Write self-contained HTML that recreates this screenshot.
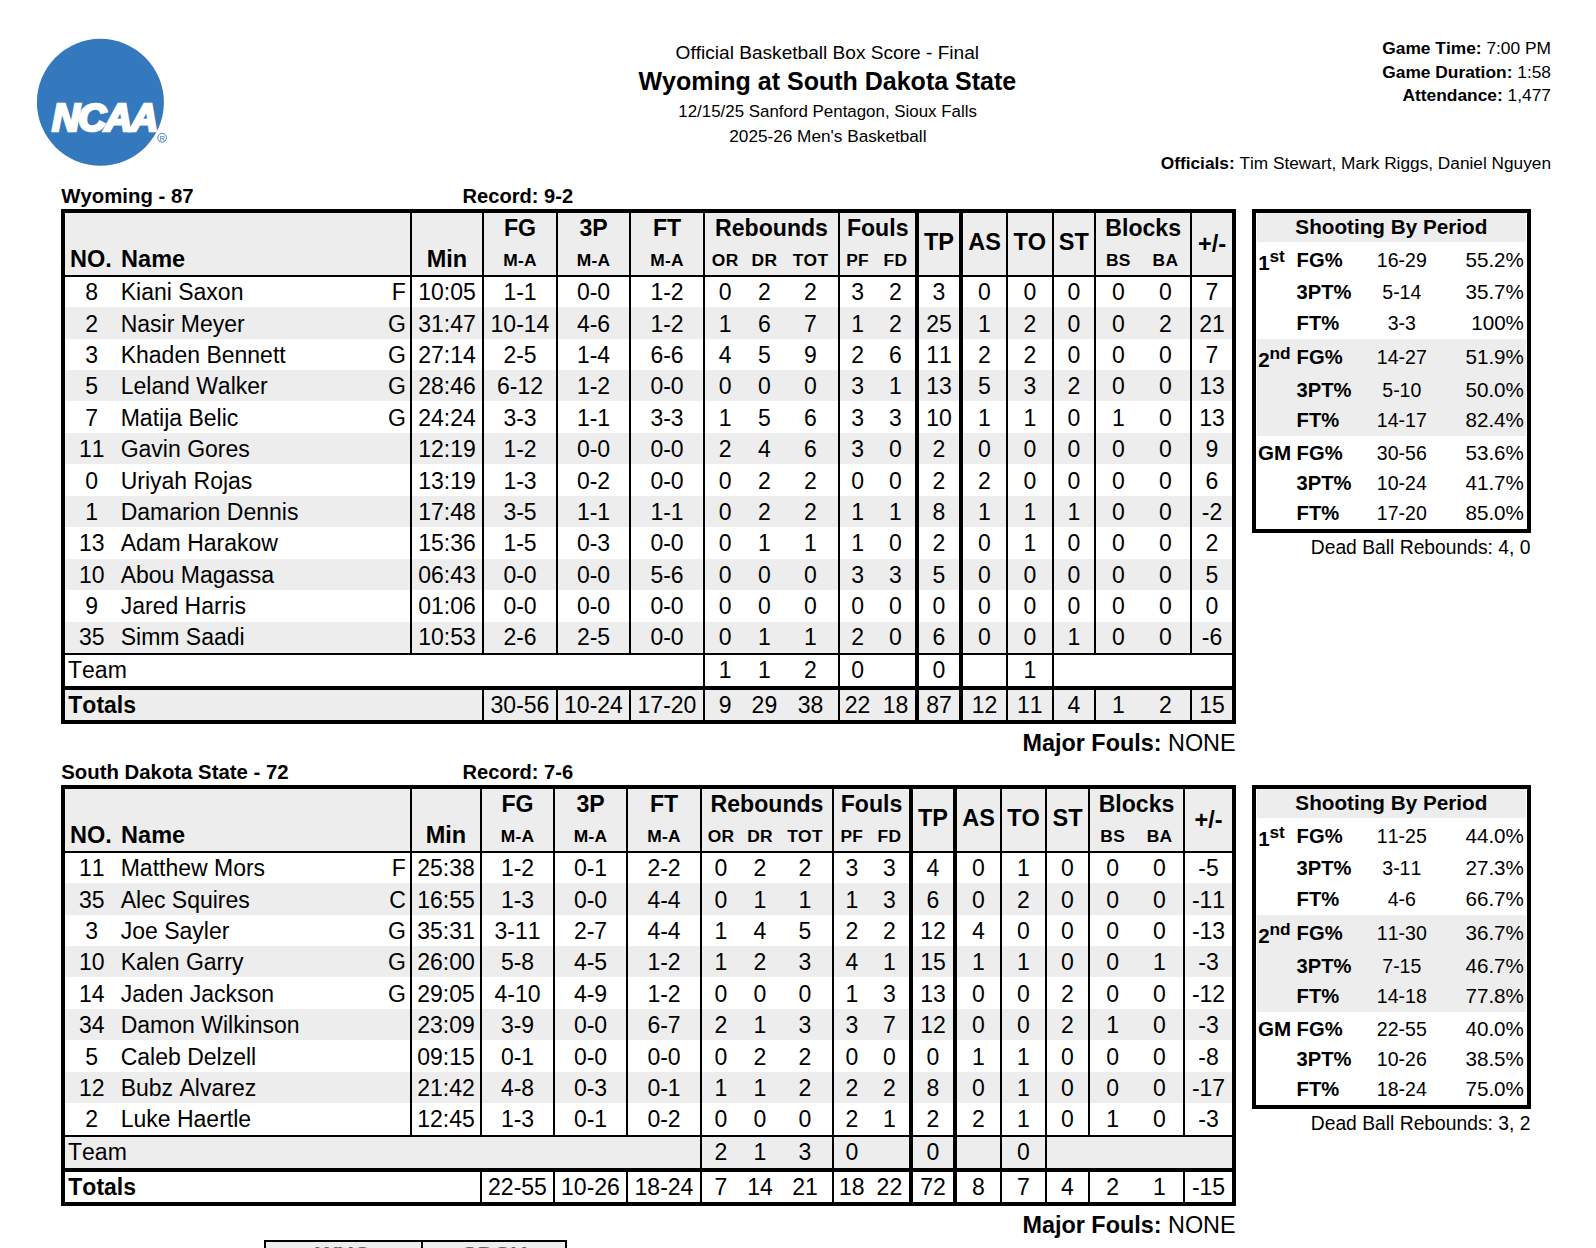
<!DOCTYPE html>
<html lang="en"><head><meta charset="utf-8"><title>Wyoming at South Dakota State - Box Score</title>
<style>
html,body{margin:0;padding:0;background:#fff}
body{font-kerning:none;width:1596px;height:1248px;position:relative;overflow:hidden;font-family:"Liberation Sans",Arial,Helvetica,sans-serif;color:#000}
.t{position:absolute;line-height:1;white-space:nowrap;margin:0;padding:0}
.ln,.bg,.logo{position:absolute}
b{font-weight:700}
.sup{font-size:.84em;position:relative;top:-.46em;margin-left:-0.4px}
.pn{font-weight:700}
</style></head><body>
<header>
<svg class="logo" width="200" height="180" viewBox="0 0 200 180" style="left:0;top:0">
<circle cx="100.4" cy="102.3" r="63.5" fill="#3478bd"/>
<text x="104.4" y="130.5" text-anchor="middle" font-family="Liberation Sans, Arial, Helvetica, sans-serif" font-weight="700" font-style="italic" font-size="38.5" fill="#fff" stroke="#fff" stroke-width="2.7" stroke-linejoin="miter" letter-spacing="-1.6">NCAA</text>
<circle cx="162.1" cy="137.8" r="4.4" fill="#fff" stroke="#3478bd" stroke-width="0.9"/>
<text x="162.15" y="140.6" text-anchor="middle" font-family="Liberation Sans, Arial, Helvetica, sans-serif" font-weight="400" font-size="7.6" fill="#3478bd">R</text>
</svg>
<div class="t" style="top:43px;font-size:19.1px;left:627.30px;width:400px;text-align:center;">Official Basketball Box Score - Final</div>
<div class="t" style="top:69px;font-size:25.0px;font-weight:700;left:627.30px;width:400px;text-align:center;">Wyoming at South Dakota State</div>
<div class="t" style="top:104px;font-size:16.9px;left:627.60px;width:400px;text-align:center;">12/15/25 Sanford Pentagon, Sioux Falls</div>
<div class="t" style="top:128px;font-size:17.2px;left:627.90px;width:400px;text-align:center;">2025-26 Men&#39;s Basketball</div>
<div class="t" style="top:40px;font-size:17.35px;left:951.00px;width:600px;text-align:right;"><b>Game Time:</b> 7:00 PM</div>
<div class="t" style="top:64px;font-size:17.35px;left:951.00px;width:600px;text-align:right;"><b>Game Duration:</b> 1:58</div>
<div class="t" style="top:87px;font-size:17.35px;left:951.00px;width:600px;text-align:right;"><b>Attendance:</b> 1,477</div>
<div class="t" style="top:155px;font-size:17.25px;left:951.00px;width:600px;text-align:right;"><b>Officials:</b> Tim Stewart, Mark Riggs, Daniel Nguyen</div>
</header>
<section class="team">
<div class="t" style="top:186px;font-size:20.35px;font-weight:700;left:61.30px;">Wyoming - 87</div>
<div class="t" style="top:186px;font-size:20.1px;font-weight:700;left:462.60px;">Record: 9-2</div>
<div class="bg" style="left:65.00px;top:213.00px;width:1167.00px;height:62.00px;background:#ededed"></div>
<div class="bg" style="left:65.00px;top:307.07px;width:1167.00px;height:31.47px;background:#ededed"></div>
<div class="bg" style="left:65.00px;top:370.01px;width:1167.00px;height:31.47px;background:#ededed"></div>
<div class="bg" style="left:65.00px;top:432.95px;width:1167.00px;height:31.47px;background:#ededed"></div>
<div class="bg" style="left:65.00px;top:495.89px;width:1167.00px;height:31.47px;background:#ededed"></div>
<div class="bg" style="left:65.00px;top:558.83px;width:1167.00px;height:31.47px;background:#ededed"></div>
<div class="bg" style="left:65.00px;top:621.77px;width:1167.00px;height:31.47px;background:#ededed"></div>
<div class="bg" style="left:65.00px;top:690.00px;width:1167.00px;height:30.00px;background:#ededed"></div>
<div class="ln" style="left:61.00px;top:209.00px;width:1175.00px;height:4.00px;background:#000"></div>
<div class="ln" style="left:61.00px;top:720.00px;width:1175.00px;height:4.00px;background:#000"></div>
<div class="ln" style="left:61.00px;top:209.00px;width:4.00px;height:515.00px;background:#000"></div>
<div class="ln" style="left:1232.00px;top:209.00px;width:4.00px;height:515.00px;background:#000"></div>
<div class="ln" style="left:65.00px;top:275.00px;width:1167.00px;height:2.00px;background:#000"></div>
<div class="ln" style="left:65.00px;top:653.00px;width:1167.00px;height:2.00px;background:#000"></div>
<div class="ln" style="left:65.00px;top:686.00px;width:1167.00px;height:4.00px;background:#000"></div>
<div class="ln" style="left:410.00px;top:213.00px;width:2.00px;height:440.00px;background:#000"></div>
<div class="ln" style="left:482.00px;top:213.00px;width:2.00px;height:440.00px;background:#000"></div>
<div class="ln" style="left:482.00px;top:686.00px;width:2.00px;height:34.00px;background:#000"></div>
<div class="ln" style="left:556.00px;top:213.00px;width:2.00px;height:440.00px;background:#000"></div>
<div class="ln" style="left:556.00px;top:686.00px;width:2.00px;height:34.00px;background:#000"></div>
<div class="ln" style="left:629.00px;top:213.00px;width:2.00px;height:440.00px;background:#000"></div>
<div class="ln" style="left:629.00px;top:686.00px;width:2.00px;height:34.00px;background:#000"></div>
<div class="ln" style="left:703.00px;top:213.00px;width:2.00px;height:440.00px;background:#000"></div>
<div class="ln" style="left:703.00px;top:653.00px;width:2.00px;height:33.00px;background:#000"></div>
<div class="ln" style="left:703.00px;top:686.00px;width:2.00px;height:34.00px;background:#000"></div>
<div class="ln" style="left:838.00px;top:213.00px;width:2.00px;height:440.00px;background:#000"></div>
<div class="ln" style="left:838.00px;top:653.00px;width:2.00px;height:33.00px;background:#000"></div>
<div class="ln" style="left:838.00px;top:686.00px;width:2.00px;height:34.00px;background:#000"></div>
<div class="ln" style="left:915.00px;top:213.00px;width:4.00px;height:440.00px;background:#000"></div>
<div class="ln" style="left:915.00px;top:653.00px;width:4.00px;height:33.00px;background:#000"></div>
<div class="ln" style="left:915.00px;top:686.00px;width:4.00px;height:34.00px;background:#000"></div>
<div class="ln" style="left:959.00px;top:213.00px;width:4.00px;height:440.00px;background:#000"></div>
<div class="ln" style="left:959.00px;top:653.00px;width:4.00px;height:33.00px;background:#000"></div>
<div class="ln" style="left:959.00px;top:686.00px;width:4.00px;height:34.00px;background:#000"></div>
<div class="ln" style="left:1006.00px;top:213.00px;width:2.00px;height:440.00px;background:#000"></div>
<div class="ln" style="left:1006.00px;top:653.00px;width:2.00px;height:33.00px;background:#000"></div>
<div class="ln" style="left:1006.00px;top:686.00px;width:2.00px;height:34.00px;background:#000"></div>
<div class="ln" style="left:1052.00px;top:213.00px;width:2.00px;height:440.00px;background:#000"></div>
<div class="ln" style="left:1052.00px;top:653.00px;width:2.00px;height:33.00px;background:#000"></div>
<div class="ln" style="left:1052.00px;top:686.00px;width:2.00px;height:34.00px;background:#000"></div>
<div class="ln" style="left:1094.00px;top:213.00px;width:2.00px;height:440.00px;background:#000"></div>
<div class="ln" style="left:1094.00px;top:686.00px;width:2.00px;height:34.00px;background:#000"></div>
<div class="ln" style="left:1190.00px;top:213.00px;width:2.00px;height:440.00px;background:#000"></div>
<div class="ln" style="left:1190.00px;top:686.00px;width:2.00px;height:34.00px;background:#000"></div>
<div class="t" style="top:248px;font-size:23.5px;font-weight:700;left:70.10px;">NO.</div>
<div class="t" style="top:248px;font-size:23.5px;font-weight:700;left:121.10px;">Name</div>
<div class="t" style="top:248px;font-size:23.5px;font-weight:700;left:247.00px;width:400px;text-align:center;">Min</div>
<div class="t" style="top:217px;font-size:23.1px;font-weight:700;left:320.00px;width:400px;text-align:center;">FG</div>
<div class="t" style="top:252px;font-size:17.4px;font-weight:700;left:320.00px;width:400px;text-align:center;letter-spacing:0.3px;">M-A</div>
<div class="t" style="top:217px;font-size:23.1px;font-weight:700;left:393.50px;width:400px;text-align:center;">3P</div>
<div class="t" style="top:252px;font-size:17.4px;font-weight:700;left:393.50px;width:400px;text-align:center;letter-spacing:0.3px;">M-A</div>
<div class="t" style="top:217px;font-size:23.1px;font-weight:700;left:467.00px;width:400px;text-align:center;">FT</div>
<div class="t" style="top:252px;font-size:17.4px;font-weight:700;left:467.00px;width:400px;text-align:center;letter-spacing:0.3px;">M-A</div>
<div class="t" style="top:217px;font-size:23.1px;font-weight:700;left:571.50px;width:400px;text-align:center;">Rebounds</div>
<div class="t" style="top:217px;font-size:23.1px;font-weight:700;left:677.70px;width:400px;text-align:center;">Fouls</div>
<div class="t" style="top:217px;font-size:23.1px;font-weight:700;left:943.20px;width:400px;text-align:center;">Blocks</div>
<div class="t" style="top:252px;font-size:17.4px;font-weight:700;left:525.20px;width:400px;text-align:center;letter-spacing:0.3px;">OR</div>
<div class="t" style="top:252px;font-size:17.4px;font-weight:700;left:564.40px;width:400px;text-align:center;letter-spacing:0.3px;">DR</div>
<div class="t" style="top:252px;font-size:17.4px;font-weight:700;left:610.50px;width:400px;text-align:center;letter-spacing:0.3px;">TOT</div>
<div class="t" style="top:252px;font-size:17.4px;font-weight:700;left:657.60px;width:400px;text-align:center;letter-spacing:0.3px;">PF</div>
<div class="t" style="top:252px;font-size:17.4px;font-weight:700;left:695.50px;width:400px;text-align:center;letter-spacing:0.3px;">FD</div>
<div class="t" style="top:252px;font-size:17.4px;font-weight:700;left:918.30px;width:400px;text-align:center;letter-spacing:0.3px;">BS</div>
<div class="t" style="top:252px;font-size:17.4px;font-weight:700;left:965.40px;width:400px;text-align:center;letter-spacing:0.3px;">BA</div>
<div class="t" style="top:231px;font-size:23.5px;font-weight:700;left:739.00px;width:400px;text-align:center;">TP</div>
<div class="t" style="top:231px;font-size:23.5px;font-weight:700;left:784.50px;width:400px;text-align:center;">AS</div>
<div class="t" style="top:231px;font-size:23.5px;font-weight:700;left:829.80px;width:400px;text-align:center;">TO</div>
<div class="t" style="top:231px;font-size:23.5px;font-weight:700;left:873.80px;width:400px;text-align:center;">ST</div>
<div class="t" style="top:233px;font-size:23.5px;font-weight:700;left:1012.00px;width:400px;text-align:center;">+/-</div>
<div class="t" style="top:281px;font-size:23.0px;left:-108.30px;width:400px;text-align:center;">8</div>
<div class="t" style="top:281px;font-size:23.0px;left:120.70px;">Kiani Saxon</div>
<div class="t" style="top:281px;font-size:23.0px;left:-194.10px;width:600px;text-align:right;">F</div>
<div class="t" style="top:281px;font-size:23.0px;left:247.00px;width:400px;text-align:center;">10:05</div>
<div class="t" style="top:281px;font-size:23.0px;left:320.00px;width:400px;text-align:center;">1-1</div>
<div class="t" style="top:281px;font-size:23.0px;left:393.50px;width:400px;text-align:center;">0-0</div>
<div class="t" style="top:281px;font-size:23.0px;left:467.00px;width:400px;text-align:center;">1-2</div>
<div class="t" style="top:281px;font-size:23.0px;left:525.20px;width:400px;text-align:center;">0</div>
<div class="t" style="top:281px;font-size:23.0px;left:564.40px;width:400px;text-align:center;">2</div>
<div class="t" style="top:281px;font-size:23.0px;left:610.50px;width:400px;text-align:center;">2</div>
<div class="t" style="top:281px;font-size:23.0px;left:657.60px;width:400px;text-align:center;">3</div>
<div class="t" style="top:281px;font-size:23.0px;left:695.50px;width:400px;text-align:center;">2</div>
<div class="t" style="top:281px;font-size:23.0px;left:739.00px;width:400px;text-align:center;">3</div>
<div class="t" style="top:281px;font-size:23.0px;left:784.50px;width:400px;text-align:center;">0</div>
<div class="t" style="top:281px;font-size:23.0px;left:829.80px;width:400px;text-align:center;">0</div>
<div class="t" style="top:281px;font-size:23.0px;left:873.80px;width:400px;text-align:center;">0</div>
<div class="t" style="top:281px;font-size:23.0px;left:918.30px;width:400px;text-align:center;">0</div>
<div class="t" style="top:281px;font-size:23.0px;left:965.40px;width:400px;text-align:center;">0</div>
<div class="t" style="top:281px;font-size:23.0px;left:1012.00px;width:400px;text-align:center;">7</div>
<div class="t" style="top:313px;font-size:23.0px;left:-108.30px;width:400px;text-align:center;">2</div>
<div class="t" style="top:313px;font-size:23.0px;left:120.70px;">Nasir Meyer</div>
<div class="t" style="top:313px;font-size:23.0px;left:-194.10px;width:600px;text-align:right;">G</div>
<div class="t" style="top:313px;font-size:23.0px;left:247.00px;width:400px;text-align:center;">31:47</div>
<div class="t" style="top:313px;font-size:23.0px;left:320.00px;width:400px;text-align:center;">10-14</div>
<div class="t" style="top:313px;font-size:23.0px;left:393.50px;width:400px;text-align:center;">4-6</div>
<div class="t" style="top:313px;font-size:23.0px;left:467.00px;width:400px;text-align:center;">1-2</div>
<div class="t" style="top:313px;font-size:23.0px;left:525.20px;width:400px;text-align:center;">1</div>
<div class="t" style="top:313px;font-size:23.0px;left:564.40px;width:400px;text-align:center;">6</div>
<div class="t" style="top:313px;font-size:23.0px;left:610.50px;width:400px;text-align:center;">7</div>
<div class="t" style="top:313px;font-size:23.0px;left:657.60px;width:400px;text-align:center;">1</div>
<div class="t" style="top:313px;font-size:23.0px;left:695.50px;width:400px;text-align:center;">2</div>
<div class="t" style="top:313px;font-size:23.0px;left:739.00px;width:400px;text-align:center;">25</div>
<div class="t" style="top:313px;font-size:23.0px;left:784.50px;width:400px;text-align:center;">1</div>
<div class="t" style="top:313px;font-size:23.0px;left:829.80px;width:400px;text-align:center;">2</div>
<div class="t" style="top:313px;font-size:23.0px;left:873.80px;width:400px;text-align:center;">0</div>
<div class="t" style="top:313px;font-size:23.0px;left:918.30px;width:400px;text-align:center;">0</div>
<div class="t" style="top:313px;font-size:23.0px;left:965.40px;width:400px;text-align:center;">2</div>
<div class="t" style="top:313px;font-size:23.0px;left:1012.00px;width:400px;text-align:center;">21</div>
<div class="t" style="top:344px;font-size:23.0px;left:-108.30px;width:400px;text-align:center;">3</div>
<div class="t" style="top:344px;font-size:23.0px;left:120.70px;">Khaden Bennett</div>
<div class="t" style="top:344px;font-size:23.0px;left:-194.10px;width:600px;text-align:right;">G</div>
<div class="t" style="top:344px;font-size:23.0px;left:247.00px;width:400px;text-align:center;">27:14</div>
<div class="t" style="top:344px;font-size:23.0px;left:320.00px;width:400px;text-align:center;">2-5</div>
<div class="t" style="top:344px;font-size:23.0px;left:393.50px;width:400px;text-align:center;">1-4</div>
<div class="t" style="top:344px;font-size:23.0px;left:467.00px;width:400px;text-align:center;">6-6</div>
<div class="t" style="top:344px;font-size:23.0px;left:525.20px;width:400px;text-align:center;">4</div>
<div class="t" style="top:344px;font-size:23.0px;left:564.40px;width:400px;text-align:center;">5</div>
<div class="t" style="top:344px;font-size:23.0px;left:610.50px;width:400px;text-align:center;">9</div>
<div class="t" style="top:344px;font-size:23.0px;left:657.60px;width:400px;text-align:center;">2</div>
<div class="t" style="top:344px;font-size:23.0px;left:695.50px;width:400px;text-align:center;">6</div>
<div class="t" style="top:344px;font-size:23.0px;left:739.00px;width:400px;text-align:center;">11</div>
<div class="t" style="top:344px;font-size:23.0px;left:784.50px;width:400px;text-align:center;">2</div>
<div class="t" style="top:344px;font-size:23.0px;left:829.80px;width:400px;text-align:center;">2</div>
<div class="t" style="top:344px;font-size:23.0px;left:873.80px;width:400px;text-align:center;">0</div>
<div class="t" style="top:344px;font-size:23.0px;left:918.30px;width:400px;text-align:center;">0</div>
<div class="t" style="top:344px;font-size:23.0px;left:965.40px;width:400px;text-align:center;">0</div>
<div class="t" style="top:344px;font-size:23.0px;left:1012.00px;width:400px;text-align:center;">7</div>
<div class="t" style="top:375px;font-size:23.0px;left:-108.30px;width:400px;text-align:center;">5</div>
<div class="t" style="top:375px;font-size:23.0px;left:120.70px;">Leland Walker</div>
<div class="t" style="top:375px;font-size:23.0px;left:-194.10px;width:600px;text-align:right;">G</div>
<div class="t" style="top:375px;font-size:23.0px;left:247.00px;width:400px;text-align:center;">28:46</div>
<div class="t" style="top:375px;font-size:23.0px;left:320.00px;width:400px;text-align:center;">6-12</div>
<div class="t" style="top:375px;font-size:23.0px;left:393.50px;width:400px;text-align:center;">1-2</div>
<div class="t" style="top:375px;font-size:23.0px;left:467.00px;width:400px;text-align:center;">0-0</div>
<div class="t" style="top:375px;font-size:23.0px;left:525.20px;width:400px;text-align:center;">0</div>
<div class="t" style="top:375px;font-size:23.0px;left:564.40px;width:400px;text-align:center;">0</div>
<div class="t" style="top:375px;font-size:23.0px;left:610.50px;width:400px;text-align:center;">0</div>
<div class="t" style="top:375px;font-size:23.0px;left:657.60px;width:400px;text-align:center;">3</div>
<div class="t" style="top:375px;font-size:23.0px;left:695.50px;width:400px;text-align:center;">1</div>
<div class="t" style="top:375px;font-size:23.0px;left:739.00px;width:400px;text-align:center;">13</div>
<div class="t" style="top:375px;font-size:23.0px;left:784.50px;width:400px;text-align:center;">5</div>
<div class="t" style="top:375px;font-size:23.0px;left:829.80px;width:400px;text-align:center;">3</div>
<div class="t" style="top:375px;font-size:23.0px;left:873.80px;width:400px;text-align:center;">2</div>
<div class="t" style="top:375px;font-size:23.0px;left:918.30px;width:400px;text-align:center;">0</div>
<div class="t" style="top:375px;font-size:23.0px;left:965.40px;width:400px;text-align:center;">0</div>
<div class="t" style="top:375px;font-size:23.0px;left:1012.00px;width:400px;text-align:center;">13</div>
<div class="t" style="top:407px;font-size:23.0px;left:-108.30px;width:400px;text-align:center;">7</div>
<div class="t" style="top:407px;font-size:23.0px;left:120.70px;">Matija Belic</div>
<div class="t" style="top:407px;font-size:23.0px;left:-194.10px;width:600px;text-align:right;">G</div>
<div class="t" style="top:407px;font-size:23.0px;left:247.00px;width:400px;text-align:center;">24:24</div>
<div class="t" style="top:407px;font-size:23.0px;left:320.00px;width:400px;text-align:center;">3-3</div>
<div class="t" style="top:407px;font-size:23.0px;left:393.50px;width:400px;text-align:center;">1-1</div>
<div class="t" style="top:407px;font-size:23.0px;left:467.00px;width:400px;text-align:center;">3-3</div>
<div class="t" style="top:407px;font-size:23.0px;left:525.20px;width:400px;text-align:center;">1</div>
<div class="t" style="top:407px;font-size:23.0px;left:564.40px;width:400px;text-align:center;">5</div>
<div class="t" style="top:407px;font-size:23.0px;left:610.50px;width:400px;text-align:center;">6</div>
<div class="t" style="top:407px;font-size:23.0px;left:657.60px;width:400px;text-align:center;">3</div>
<div class="t" style="top:407px;font-size:23.0px;left:695.50px;width:400px;text-align:center;">3</div>
<div class="t" style="top:407px;font-size:23.0px;left:739.00px;width:400px;text-align:center;">10</div>
<div class="t" style="top:407px;font-size:23.0px;left:784.50px;width:400px;text-align:center;">1</div>
<div class="t" style="top:407px;font-size:23.0px;left:829.80px;width:400px;text-align:center;">1</div>
<div class="t" style="top:407px;font-size:23.0px;left:873.80px;width:400px;text-align:center;">0</div>
<div class="t" style="top:407px;font-size:23.0px;left:918.30px;width:400px;text-align:center;">1</div>
<div class="t" style="top:407px;font-size:23.0px;left:965.40px;width:400px;text-align:center;">0</div>
<div class="t" style="top:407px;font-size:23.0px;left:1012.00px;width:400px;text-align:center;">13</div>
<div class="t" style="top:438px;font-size:23.0px;left:-108.30px;width:400px;text-align:center;">11</div>
<div class="t" style="top:438px;font-size:23.0px;left:120.70px;">Gavin Gores</div>
<div class="t" style="top:438px;font-size:23.0px;left:247.00px;width:400px;text-align:center;">12:19</div>
<div class="t" style="top:438px;font-size:23.0px;left:320.00px;width:400px;text-align:center;">1-2</div>
<div class="t" style="top:438px;font-size:23.0px;left:393.50px;width:400px;text-align:center;">0-0</div>
<div class="t" style="top:438px;font-size:23.0px;left:467.00px;width:400px;text-align:center;">0-0</div>
<div class="t" style="top:438px;font-size:23.0px;left:525.20px;width:400px;text-align:center;">2</div>
<div class="t" style="top:438px;font-size:23.0px;left:564.40px;width:400px;text-align:center;">4</div>
<div class="t" style="top:438px;font-size:23.0px;left:610.50px;width:400px;text-align:center;">6</div>
<div class="t" style="top:438px;font-size:23.0px;left:657.60px;width:400px;text-align:center;">3</div>
<div class="t" style="top:438px;font-size:23.0px;left:695.50px;width:400px;text-align:center;">0</div>
<div class="t" style="top:438px;font-size:23.0px;left:739.00px;width:400px;text-align:center;">2</div>
<div class="t" style="top:438px;font-size:23.0px;left:784.50px;width:400px;text-align:center;">0</div>
<div class="t" style="top:438px;font-size:23.0px;left:829.80px;width:400px;text-align:center;">0</div>
<div class="t" style="top:438px;font-size:23.0px;left:873.80px;width:400px;text-align:center;">0</div>
<div class="t" style="top:438px;font-size:23.0px;left:918.30px;width:400px;text-align:center;">0</div>
<div class="t" style="top:438px;font-size:23.0px;left:965.40px;width:400px;text-align:center;">0</div>
<div class="t" style="top:438px;font-size:23.0px;left:1012.00px;width:400px;text-align:center;">9</div>
<div class="t" style="top:470px;font-size:23.0px;left:-108.30px;width:400px;text-align:center;">0</div>
<div class="t" style="top:470px;font-size:23.0px;left:120.70px;">Uriyah Rojas</div>
<div class="t" style="top:470px;font-size:23.0px;left:247.00px;width:400px;text-align:center;">13:19</div>
<div class="t" style="top:470px;font-size:23.0px;left:320.00px;width:400px;text-align:center;">1-3</div>
<div class="t" style="top:470px;font-size:23.0px;left:393.50px;width:400px;text-align:center;">0-2</div>
<div class="t" style="top:470px;font-size:23.0px;left:467.00px;width:400px;text-align:center;">0-0</div>
<div class="t" style="top:470px;font-size:23.0px;left:525.20px;width:400px;text-align:center;">0</div>
<div class="t" style="top:470px;font-size:23.0px;left:564.40px;width:400px;text-align:center;">2</div>
<div class="t" style="top:470px;font-size:23.0px;left:610.50px;width:400px;text-align:center;">2</div>
<div class="t" style="top:470px;font-size:23.0px;left:657.60px;width:400px;text-align:center;">0</div>
<div class="t" style="top:470px;font-size:23.0px;left:695.50px;width:400px;text-align:center;">0</div>
<div class="t" style="top:470px;font-size:23.0px;left:739.00px;width:400px;text-align:center;">2</div>
<div class="t" style="top:470px;font-size:23.0px;left:784.50px;width:400px;text-align:center;">2</div>
<div class="t" style="top:470px;font-size:23.0px;left:829.80px;width:400px;text-align:center;">0</div>
<div class="t" style="top:470px;font-size:23.0px;left:873.80px;width:400px;text-align:center;">0</div>
<div class="t" style="top:470px;font-size:23.0px;left:918.30px;width:400px;text-align:center;">0</div>
<div class="t" style="top:470px;font-size:23.0px;left:965.40px;width:400px;text-align:center;">0</div>
<div class="t" style="top:470px;font-size:23.0px;left:1012.00px;width:400px;text-align:center;">6</div>
<div class="t" style="top:501px;font-size:23.0px;left:-108.30px;width:400px;text-align:center;">1</div>
<div class="t" style="top:501px;font-size:23.0px;left:120.70px;">Damarion Dennis</div>
<div class="t" style="top:501px;font-size:23.0px;left:247.00px;width:400px;text-align:center;">17:48</div>
<div class="t" style="top:501px;font-size:23.0px;left:320.00px;width:400px;text-align:center;">3-5</div>
<div class="t" style="top:501px;font-size:23.0px;left:393.50px;width:400px;text-align:center;">1-1</div>
<div class="t" style="top:501px;font-size:23.0px;left:467.00px;width:400px;text-align:center;">1-1</div>
<div class="t" style="top:501px;font-size:23.0px;left:525.20px;width:400px;text-align:center;">0</div>
<div class="t" style="top:501px;font-size:23.0px;left:564.40px;width:400px;text-align:center;">2</div>
<div class="t" style="top:501px;font-size:23.0px;left:610.50px;width:400px;text-align:center;">2</div>
<div class="t" style="top:501px;font-size:23.0px;left:657.60px;width:400px;text-align:center;">1</div>
<div class="t" style="top:501px;font-size:23.0px;left:695.50px;width:400px;text-align:center;">1</div>
<div class="t" style="top:501px;font-size:23.0px;left:739.00px;width:400px;text-align:center;">8</div>
<div class="t" style="top:501px;font-size:23.0px;left:784.50px;width:400px;text-align:center;">1</div>
<div class="t" style="top:501px;font-size:23.0px;left:829.80px;width:400px;text-align:center;">1</div>
<div class="t" style="top:501px;font-size:23.0px;left:873.80px;width:400px;text-align:center;">1</div>
<div class="t" style="top:501px;font-size:23.0px;left:918.30px;width:400px;text-align:center;">0</div>
<div class="t" style="top:501px;font-size:23.0px;left:965.40px;width:400px;text-align:center;">0</div>
<div class="t" style="top:501px;font-size:23.0px;left:1012.00px;width:400px;text-align:center;">-2</div>
<div class="t" style="top:532px;font-size:23.0px;left:-108.30px;width:400px;text-align:center;">13</div>
<div class="t" style="top:532px;font-size:23.0px;left:120.70px;">Adam Harakow</div>
<div class="t" style="top:532px;font-size:23.0px;left:247.00px;width:400px;text-align:center;">15:36</div>
<div class="t" style="top:532px;font-size:23.0px;left:320.00px;width:400px;text-align:center;">1-5</div>
<div class="t" style="top:532px;font-size:23.0px;left:393.50px;width:400px;text-align:center;">0-3</div>
<div class="t" style="top:532px;font-size:23.0px;left:467.00px;width:400px;text-align:center;">0-0</div>
<div class="t" style="top:532px;font-size:23.0px;left:525.20px;width:400px;text-align:center;">0</div>
<div class="t" style="top:532px;font-size:23.0px;left:564.40px;width:400px;text-align:center;">1</div>
<div class="t" style="top:532px;font-size:23.0px;left:610.50px;width:400px;text-align:center;">1</div>
<div class="t" style="top:532px;font-size:23.0px;left:657.60px;width:400px;text-align:center;">1</div>
<div class="t" style="top:532px;font-size:23.0px;left:695.50px;width:400px;text-align:center;">0</div>
<div class="t" style="top:532px;font-size:23.0px;left:739.00px;width:400px;text-align:center;">2</div>
<div class="t" style="top:532px;font-size:23.0px;left:784.50px;width:400px;text-align:center;">0</div>
<div class="t" style="top:532px;font-size:23.0px;left:829.80px;width:400px;text-align:center;">1</div>
<div class="t" style="top:532px;font-size:23.0px;left:873.80px;width:400px;text-align:center;">0</div>
<div class="t" style="top:532px;font-size:23.0px;left:918.30px;width:400px;text-align:center;">0</div>
<div class="t" style="top:532px;font-size:23.0px;left:965.40px;width:400px;text-align:center;">0</div>
<div class="t" style="top:532px;font-size:23.0px;left:1012.00px;width:400px;text-align:center;">2</div>
<div class="t" style="top:564px;font-size:23.0px;left:-108.30px;width:400px;text-align:center;">10</div>
<div class="t" style="top:564px;font-size:23.0px;left:120.70px;">Abou Magassa</div>
<div class="t" style="top:564px;font-size:23.0px;left:247.00px;width:400px;text-align:center;">06:43</div>
<div class="t" style="top:564px;font-size:23.0px;left:320.00px;width:400px;text-align:center;">0-0</div>
<div class="t" style="top:564px;font-size:23.0px;left:393.50px;width:400px;text-align:center;">0-0</div>
<div class="t" style="top:564px;font-size:23.0px;left:467.00px;width:400px;text-align:center;">5-6</div>
<div class="t" style="top:564px;font-size:23.0px;left:525.20px;width:400px;text-align:center;">0</div>
<div class="t" style="top:564px;font-size:23.0px;left:564.40px;width:400px;text-align:center;">0</div>
<div class="t" style="top:564px;font-size:23.0px;left:610.50px;width:400px;text-align:center;">0</div>
<div class="t" style="top:564px;font-size:23.0px;left:657.60px;width:400px;text-align:center;">3</div>
<div class="t" style="top:564px;font-size:23.0px;left:695.50px;width:400px;text-align:center;">3</div>
<div class="t" style="top:564px;font-size:23.0px;left:739.00px;width:400px;text-align:center;">5</div>
<div class="t" style="top:564px;font-size:23.0px;left:784.50px;width:400px;text-align:center;">0</div>
<div class="t" style="top:564px;font-size:23.0px;left:829.80px;width:400px;text-align:center;">0</div>
<div class="t" style="top:564px;font-size:23.0px;left:873.80px;width:400px;text-align:center;">0</div>
<div class="t" style="top:564px;font-size:23.0px;left:918.30px;width:400px;text-align:center;">0</div>
<div class="t" style="top:564px;font-size:23.0px;left:965.40px;width:400px;text-align:center;">0</div>
<div class="t" style="top:564px;font-size:23.0px;left:1012.00px;width:400px;text-align:center;">5</div>
<div class="t" style="top:595px;font-size:23.0px;left:-108.30px;width:400px;text-align:center;">9</div>
<div class="t" style="top:595px;font-size:23.0px;left:120.70px;">Jared Harris</div>
<div class="t" style="top:595px;font-size:23.0px;left:247.00px;width:400px;text-align:center;">01:06</div>
<div class="t" style="top:595px;font-size:23.0px;left:320.00px;width:400px;text-align:center;">0-0</div>
<div class="t" style="top:595px;font-size:23.0px;left:393.50px;width:400px;text-align:center;">0-0</div>
<div class="t" style="top:595px;font-size:23.0px;left:467.00px;width:400px;text-align:center;">0-0</div>
<div class="t" style="top:595px;font-size:23.0px;left:525.20px;width:400px;text-align:center;">0</div>
<div class="t" style="top:595px;font-size:23.0px;left:564.40px;width:400px;text-align:center;">0</div>
<div class="t" style="top:595px;font-size:23.0px;left:610.50px;width:400px;text-align:center;">0</div>
<div class="t" style="top:595px;font-size:23.0px;left:657.60px;width:400px;text-align:center;">0</div>
<div class="t" style="top:595px;font-size:23.0px;left:695.50px;width:400px;text-align:center;">0</div>
<div class="t" style="top:595px;font-size:23.0px;left:739.00px;width:400px;text-align:center;">0</div>
<div class="t" style="top:595px;font-size:23.0px;left:784.50px;width:400px;text-align:center;">0</div>
<div class="t" style="top:595px;font-size:23.0px;left:829.80px;width:400px;text-align:center;">0</div>
<div class="t" style="top:595px;font-size:23.0px;left:873.80px;width:400px;text-align:center;">0</div>
<div class="t" style="top:595px;font-size:23.0px;left:918.30px;width:400px;text-align:center;">0</div>
<div class="t" style="top:595px;font-size:23.0px;left:965.40px;width:400px;text-align:center;">0</div>
<div class="t" style="top:595px;font-size:23.0px;left:1012.00px;width:400px;text-align:center;">0</div>
<div class="t" style="top:626px;font-size:23.0px;left:-108.30px;width:400px;text-align:center;">35</div>
<div class="t" style="top:626px;font-size:23.0px;left:120.70px;">Simm Saadi</div>
<div class="t" style="top:626px;font-size:23.0px;left:247.00px;width:400px;text-align:center;">10:53</div>
<div class="t" style="top:626px;font-size:23.0px;left:320.00px;width:400px;text-align:center;">2-6</div>
<div class="t" style="top:626px;font-size:23.0px;left:393.50px;width:400px;text-align:center;">2-5</div>
<div class="t" style="top:626px;font-size:23.0px;left:467.00px;width:400px;text-align:center;">0-0</div>
<div class="t" style="top:626px;font-size:23.0px;left:525.20px;width:400px;text-align:center;">0</div>
<div class="t" style="top:626px;font-size:23.0px;left:564.40px;width:400px;text-align:center;">1</div>
<div class="t" style="top:626px;font-size:23.0px;left:610.50px;width:400px;text-align:center;">1</div>
<div class="t" style="top:626px;font-size:23.0px;left:657.60px;width:400px;text-align:center;">2</div>
<div class="t" style="top:626px;font-size:23.0px;left:695.50px;width:400px;text-align:center;">0</div>
<div class="t" style="top:626px;font-size:23.0px;left:739.00px;width:400px;text-align:center;">6</div>
<div class="t" style="top:626px;font-size:23.0px;left:784.50px;width:400px;text-align:center;">0</div>
<div class="t" style="top:626px;font-size:23.0px;left:829.80px;width:400px;text-align:center;">0</div>
<div class="t" style="top:626px;font-size:23.0px;left:873.80px;width:400px;text-align:center;">1</div>
<div class="t" style="top:626px;font-size:23.0px;left:918.30px;width:400px;text-align:center;">0</div>
<div class="t" style="top:626px;font-size:23.0px;left:965.40px;width:400px;text-align:center;">0</div>
<div class="t" style="top:626px;font-size:23.0px;left:1012.00px;width:400px;text-align:center;">-6</div>
<div class="t" style="top:659px;font-size:23.0px;left:68.00px;">Team</div>
<div class="t" style="top:659px;font-size:23.0px;left:525.20px;width:400px;text-align:center;">1</div>
<div class="t" style="top:659px;font-size:23.0px;left:564.40px;width:400px;text-align:center;">1</div>
<div class="t" style="top:659px;font-size:23.0px;left:610.50px;width:400px;text-align:center;">2</div>
<div class="t" style="top:659px;font-size:23.0px;left:657.60px;width:400px;text-align:center;">0</div>
<div class="t" style="top:659px;font-size:23.0px;left:739.00px;width:400px;text-align:center;">0</div>
<div class="t" style="top:659px;font-size:23.0px;left:829.80px;width:400px;text-align:center;">1</div>
<div class="t" style="top:694px;font-size:23.0px;font-weight:700;left:68.30px;">Totals</div>
<div class="t" style="top:694px;font-size:23.0px;left:320.00px;width:400px;text-align:center;">30-56</div>
<div class="t" style="top:694px;font-size:23.0px;left:393.50px;width:400px;text-align:center;">10-24</div>
<div class="t" style="top:694px;font-size:23.0px;left:467.00px;width:400px;text-align:center;">17-20</div>
<div class="t" style="top:694px;font-size:23.0px;left:525.20px;width:400px;text-align:center;">9</div>
<div class="t" style="top:694px;font-size:23.0px;left:564.40px;width:400px;text-align:center;">29</div>
<div class="t" style="top:694px;font-size:23.0px;left:610.50px;width:400px;text-align:center;">38</div>
<div class="t" style="top:694px;font-size:23.0px;left:657.60px;width:400px;text-align:center;">22</div>
<div class="t" style="top:694px;font-size:23.0px;left:695.50px;width:400px;text-align:center;">18</div>
<div class="t" style="top:694px;font-size:23.0px;left:739.00px;width:400px;text-align:center;">87</div>
<div class="t" style="top:694px;font-size:23.0px;left:784.50px;width:400px;text-align:center;">12</div>
<div class="t" style="top:694px;font-size:23.0px;left:829.80px;width:400px;text-align:center;">11</div>
<div class="t" style="top:694px;font-size:23.0px;left:873.80px;width:400px;text-align:center;">4</div>
<div class="t" style="top:694px;font-size:23.0px;left:918.30px;width:400px;text-align:center;">1</div>
<div class="t" style="top:694px;font-size:23.0px;left:965.40px;width:400px;text-align:center;">2</div>
<div class="t" style="top:694px;font-size:23.0px;left:1012.00px;width:400px;text-align:center;">15</div>
<div class="t" style="top:732px;font-size:23.4px;left:635.60px;width:600px;text-align:right;"><b>Major Fouls:</b> NONE</div>
</section>
<section class="shoot">
<div class="bg" style="left:1257.00px;top:213.00px;width:269.00px;height:28.70px;background:#ededed"></div>
<div class="bg" style="left:1257.00px;top:339.00px;width:269.00px;height:96.75px;background:#ededed"></div>
<div class="ln" style="left:1252.00px;top:209.00px;width:279.00px;height:4.00px;background:#000"></div>
<div class="ln" style="left:1252.00px;top:529.00px;width:279.00px;height:4.00px;background:#000"></div>
<div class="ln" style="left:1252.00px;top:209.00px;width:4.00px;height:324.00px;background:#000"></div>
<div class="ln" style="left:1527.00px;top:209.00px;width:4.00px;height:324.00px;background:#000"></div>
<div class="t" style="top:217px;font-size:20.7px;font-weight:700;left:1191.30px;width:400px;text-align:center;">Shooting By Period</div>
<div class="t" style="top:253px;font-size:20.6px;font-weight:700;left:1258.30px;"><span class="pn">1</span><span class="sup">st</span></div>
<div class="t" style="top:350px;font-size:20.6px;font-weight:700;left:1258.30px;"><span class="pn">2</span><span class="sup">nd</span></div>
<div class="t" style="top:443px;font-size:20.6px;font-weight:700;left:1258.00px;">GM</div>
<div class="t" style="top:250px;font-size:20.2px;font-weight:700;left:1296.60px;">FG%</div>
<div class="t" style="top:251px;font-size:19.5px;left:1201.80px;width:400px;text-align:center;">16-29</div>
<div class="t" style="top:250px;font-size:20.6px;left:923.90px;width:600px;text-align:right;">55.2%</div>
<div class="t" style="top:282px;font-size:20.2px;font-weight:700;left:1296.60px;">3PT%</div>
<div class="t" style="top:283px;font-size:19.5px;left:1201.80px;width:400px;text-align:center;">5-14</div>
<div class="t" style="top:282px;font-size:20.6px;left:923.90px;width:600px;text-align:right;">35.7%</div>
<div class="t" style="top:313px;font-size:20.2px;font-weight:700;left:1296.60px;">FT%</div>
<div class="t" style="top:314px;font-size:19.5px;left:1201.80px;width:400px;text-align:center;">3-3</div>
<div class="t" style="top:313px;font-size:20.6px;left:923.90px;width:600px;text-align:right;">100%</div>
<div class="t" style="top:347px;font-size:20.2px;font-weight:700;left:1296.60px;">FG%</div>
<div class="t" style="top:348px;font-size:19.5px;left:1201.80px;width:400px;text-align:center;">14-27</div>
<div class="t" style="top:347px;font-size:20.6px;left:923.90px;width:600px;text-align:right;">51.9%</div>
<div class="t" style="top:380px;font-size:20.2px;font-weight:700;left:1296.60px;">3PT%</div>
<div class="t" style="top:381px;font-size:19.5px;left:1201.80px;width:400px;text-align:center;">5-10</div>
<div class="t" style="top:380px;font-size:20.6px;left:923.90px;width:600px;text-align:right;">50.0%</div>
<div class="t" style="top:410px;font-size:20.2px;font-weight:700;left:1296.60px;">FT%</div>
<div class="t" style="top:411px;font-size:19.5px;left:1201.80px;width:400px;text-align:center;">14-17</div>
<div class="t" style="top:410px;font-size:20.6px;left:923.90px;width:600px;text-align:right;">82.4%</div>
<div class="t" style="top:443px;font-size:20.2px;font-weight:700;left:1296.60px;">FG%</div>
<div class="t" style="top:444px;font-size:19.5px;left:1201.80px;width:400px;text-align:center;">30-56</div>
<div class="t" style="top:443px;font-size:20.6px;left:923.90px;width:600px;text-align:right;">53.6%</div>
<div class="t" style="top:473px;font-size:20.2px;font-weight:700;left:1296.60px;">3PT%</div>
<div class="t" style="top:474px;font-size:19.5px;left:1201.80px;width:400px;text-align:center;">10-24</div>
<div class="t" style="top:473px;font-size:20.6px;left:923.90px;width:600px;text-align:right;">41.7%</div>
<div class="t" style="top:503px;font-size:20.2px;font-weight:700;left:1296.60px;">FT%</div>
<div class="t" style="top:504px;font-size:19.5px;left:1201.80px;width:400px;text-align:center;">17-20</div>
<div class="t" style="top:503px;font-size:20.6px;left:923.90px;width:600px;text-align:right;">85.0%</div>
<div class="t" style="top:538px;font-size:19.3px;left:930.50px;width:600px;text-align:right;">Dead Ball Rebounds: 4, 0</div>
</section>
<section class="team">
<div class="t" style="top:762px;font-size:20.35px;font-weight:700;left:61.30px;">South Dakota State - 72</div>
<div class="t" style="top:762px;font-size:20.1px;font-weight:700;left:462.60px;">Record: 7-6</div>
<div class="bg" style="left:65.00px;top:789.00px;width:1167.00px;height:62.00px;background:#ededed"></div>
<div class="bg" style="left:65.00px;top:883.07px;width:1167.00px;height:31.47px;background:#ededed"></div>
<div class="bg" style="left:65.00px;top:946.01px;width:1167.00px;height:31.47px;background:#ededed"></div>
<div class="bg" style="left:65.00px;top:1008.95px;width:1167.00px;height:31.47px;background:#ededed"></div>
<div class="bg" style="left:65.00px;top:1071.89px;width:1167.00px;height:31.47px;background:#ededed"></div>
<div class="bg" style="left:65.00px;top:1137.00px;width:1167.00px;height:31.00px;background:#ededed"></div>
<div class="ln" style="left:61.00px;top:785.00px;width:1175.00px;height:4.00px;background:#000"></div>
<div class="ln" style="left:61.00px;top:1202.00px;width:1175.00px;height:4.00px;background:#000"></div>
<div class="ln" style="left:61.00px;top:785.00px;width:4.00px;height:421.00px;background:#000"></div>
<div class="ln" style="left:1232.00px;top:785.00px;width:4.00px;height:421.00px;background:#000"></div>
<div class="ln" style="left:65.00px;top:851.00px;width:1167.00px;height:2.00px;background:#000"></div>
<div class="ln" style="left:65.00px;top:1135.00px;width:1167.00px;height:2.00px;background:#000"></div>
<div class="ln" style="left:65.00px;top:1168.00px;width:1167.00px;height:4.00px;background:#000"></div>
<div class="ln" style="left:410.00px;top:789.00px;width:2.00px;height:346.00px;background:#000"></div>
<div class="ln" style="left:480.00px;top:789.00px;width:2.00px;height:346.00px;background:#000"></div>
<div class="ln" style="left:480.00px;top:1168.00px;width:2.00px;height:34.00px;background:#000"></div>
<div class="ln" style="left:553.00px;top:789.00px;width:2.00px;height:346.00px;background:#000"></div>
<div class="ln" style="left:553.00px;top:1168.00px;width:2.00px;height:34.00px;background:#000"></div>
<div class="ln" style="left:626.00px;top:789.00px;width:2.00px;height:346.00px;background:#000"></div>
<div class="ln" style="left:626.00px;top:1168.00px;width:2.00px;height:34.00px;background:#000"></div>
<div class="ln" style="left:700.00px;top:789.00px;width:2.00px;height:346.00px;background:#000"></div>
<div class="ln" style="left:700.00px;top:1135.00px;width:2.00px;height:33.00px;background:#000"></div>
<div class="ln" style="left:700.00px;top:1168.00px;width:2.00px;height:34.00px;background:#000"></div>
<div class="ln" style="left:832.00px;top:789.00px;width:2.00px;height:346.00px;background:#000"></div>
<div class="ln" style="left:832.00px;top:1135.00px;width:2.00px;height:33.00px;background:#000"></div>
<div class="ln" style="left:832.00px;top:1168.00px;width:2.00px;height:34.00px;background:#000"></div>
<div class="ln" style="left:909.00px;top:789.00px;width:4.00px;height:346.00px;background:#000"></div>
<div class="ln" style="left:909.00px;top:1135.00px;width:4.00px;height:33.00px;background:#000"></div>
<div class="ln" style="left:909.00px;top:1168.00px;width:4.00px;height:34.00px;background:#000"></div>
<div class="ln" style="left:953.00px;top:789.00px;width:4.00px;height:346.00px;background:#000"></div>
<div class="ln" style="left:953.00px;top:1135.00px;width:4.00px;height:33.00px;background:#000"></div>
<div class="ln" style="left:953.00px;top:1168.00px;width:4.00px;height:34.00px;background:#000"></div>
<div class="ln" style="left:1000.00px;top:789.00px;width:2.00px;height:346.00px;background:#000"></div>
<div class="ln" style="left:1000.00px;top:1135.00px;width:2.00px;height:33.00px;background:#000"></div>
<div class="ln" style="left:1000.00px;top:1168.00px;width:2.00px;height:34.00px;background:#000"></div>
<div class="ln" style="left:1045.00px;top:789.00px;width:2.00px;height:346.00px;background:#000"></div>
<div class="ln" style="left:1045.00px;top:1135.00px;width:2.00px;height:33.00px;background:#000"></div>
<div class="ln" style="left:1045.00px;top:1168.00px;width:2.00px;height:34.00px;background:#000"></div>
<div class="ln" style="left:1088.00px;top:789.00px;width:2.00px;height:346.00px;background:#000"></div>
<div class="ln" style="left:1088.00px;top:1168.00px;width:2.00px;height:34.00px;background:#000"></div>
<div class="ln" style="left:1183.00px;top:789.00px;width:2.00px;height:346.00px;background:#000"></div>
<div class="ln" style="left:1183.00px;top:1168.00px;width:2.00px;height:34.00px;background:#000"></div>
<div class="t" style="top:824px;font-size:23.5px;font-weight:700;left:70.10px;">NO.</div>
<div class="t" style="top:824px;font-size:23.5px;font-weight:700;left:121.10px;">Name</div>
<div class="t" style="top:824px;font-size:23.5px;font-weight:700;left:246.00px;width:400px;text-align:center;">Min</div>
<div class="t" style="top:793px;font-size:23.1px;font-weight:700;left:317.50px;width:400px;text-align:center;">FG</div>
<div class="t" style="top:828px;font-size:17.4px;font-weight:700;left:317.50px;width:400px;text-align:center;letter-spacing:0.3px;">M-A</div>
<div class="t" style="top:793px;font-size:23.1px;font-weight:700;left:390.50px;width:400px;text-align:center;">3P</div>
<div class="t" style="top:828px;font-size:17.4px;font-weight:700;left:390.50px;width:400px;text-align:center;letter-spacing:0.3px;">M-A</div>
<div class="t" style="top:793px;font-size:23.1px;font-weight:700;left:464.00px;width:400px;text-align:center;">FT</div>
<div class="t" style="top:828px;font-size:17.4px;font-weight:700;left:464.00px;width:400px;text-align:center;letter-spacing:0.3px;">M-A</div>
<div class="t" style="top:793px;font-size:23.1px;font-weight:700;left:567.00px;width:400px;text-align:center;">Rebounds</div>
<div class="t" style="top:793px;font-size:23.1px;font-weight:700;left:671.50px;width:400px;text-align:center;">Fouls</div>
<div class="t" style="top:793px;font-size:23.1px;font-weight:700;left:936.50px;width:400px;text-align:center;">Blocks</div>
<div class="t" style="top:828px;font-size:17.4px;font-weight:700;left:521.00px;width:400px;text-align:center;letter-spacing:0.3px;">OR</div>
<div class="t" style="top:828px;font-size:17.4px;font-weight:700;left:560.00px;width:400px;text-align:center;letter-spacing:0.3px;">DR</div>
<div class="t" style="top:828px;font-size:17.4px;font-weight:700;left:605.00px;width:400px;text-align:center;letter-spacing:0.3px;">TOT</div>
<div class="t" style="top:828px;font-size:17.4px;font-weight:700;left:651.80px;width:400px;text-align:center;letter-spacing:0.3px;">PF</div>
<div class="t" style="top:828px;font-size:17.4px;font-weight:700;left:689.40px;width:400px;text-align:center;letter-spacing:0.3px;">FD</div>
<div class="t" style="top:828px;font-size:17.4px;font-weight:700;left:912.70px;width:400px;text-align:center;letter-spacing:0.3px;">BS</div>
<div class="t" style="top:828px;font-size:17.4px;font-weight:700;left:959.50px;width:400px;text-align:center;letter-spacing:0.3px;">BA</div>
<div class="t" style="top:807px;font-size:23.5px;font-weight:700;left:733.00px;width:400px;text-align:center;">TP</div>
<div class="t" style="top:807px;font-size:23.5px;font-weight:700;left:778.50px;width:400px;text-align:center;">AS</div>
<div class="t" style="top:807px;font-size:23.5px;font-weight:700;left:823.50px;width:400px;text-align:center;">TO</div>
<div class="t" style="top:807px;font-size:23.5px;font-weight:700;left:867.50px;width:400px;text-align:center;">ST</div>
<div class="t" style="top:809px;font-size:23.5px;font-weight:700;left:1008.50px;width:400px;text-align:center;">+/-</div>
<div class="t" style="top:857px;font-size:23.0px;left:-108.30px;width:400px;text-align:center;">11</div>
<div class="t" style="top:857px;font-size:23.0px;left:120.70px;">Matthew Mors</div>
<div class="t" style="top:857px;font-size:23.0px;left:-194.10px;width:600px;text-align:right;">F</div>
<div class="t" style="top:857px;font-size:23.0px;left:246.00px;width:400px;text-align:center;">25:38</div>
<div class="t" style="top:857px;font-size:23.0px;left:317.50px;width:400px;text-align:center;">1-2</div>
<div class="t" style="top:857px;font-size:23.0px;left:390.50px;width:400px;text-align:center;">0-1</div>
<div class="t" style="top:857px;font-size:23.0px;left:464.00px;width:400px;text-align:center;">2-2</div>
<div class="t" style="top:857px;font-size:23.0px;left:521.00px;width:400px;text-align:center;">0</div>
<div class="t" style="top:857px;font-size:23.0px;left:560.00px;width:400px;text-align:center;">2</div>
<div class="t" style="top:857px;font-size:23.0px;left:605.00px;width:400px;text-align:center;">2</div>
<div class="t" style="top:857px;font-size:23.0px;left:651.80px;width:400px;text-align:center;">3</div>
<div class="t" style="top:857px;font-size:23.0px;left:689.40px;width:400px;text-align:center;">3</div>
<div class="t" style="top:857px;font-size:23.0px;left:733.00px;width:400px;text-align:center;">4</div>
<div class="t" style="top:857px;font-size:23.0px;left:778.50px;width:400px;text-align:center;">0</div>
<div class="t" style="top:857px;font-size:23.0px;left:823.50px;width:400px;text-align:center;">1</div>
<div class="t" style="top:857px;font-size:23.0px;left:867.50px;width:400px;text-align:center;">0</div>
<div class="t" style="top:857px;font-size:23.0px;left:912.70px;width:400px;text-align:center;">0</div>
<div class="t" style="top:857px;font-size:23.0px;left:959.50px;width:400px;text-align:center;">0</div>
<div class="t" style="top:857px;font-size:23.0px;left:1008.50px;width:400px;text-align:center;">-5</div>
<div class="t" style="top:889px;font-size:23.0px;left:-108.30px;width:400px;text-align:center;">35</div>
<div class="t" style="top:889px;font-size:23.0px;left:120.70px;">Alec Squires</div>
<div class="t" style="top:889px;font-size:23.0px;left:-194.10px;width:600px;text-align:right;">C</div>
<div class="t" style="top:889px;font-size:23.0px;left:246.00px;width:400px;text-align:center;">16:55</div>
<div class="t" style="top:889px;font-size:23.0px;left:317.50px;width:400px;text-align:center;">1-3</div>
<div class="t" style="top:889px;font-size:23.0px;left:390.50px;width:400px;text-align:center;">0-0</div>
<div class="t" style="top:889px;font-size:23.0px;left:464.00px;width:400px;text-align:center;">4-4</div>
<div class="t" style="top:889px;font-size:23.0px;left:521.00px;width:400px;text-align:center;">0</div>
<div class="t" style="top:889px;font-size:23.0px;left:560.00px;width:400px;text-align:center;">1</div>
<div class="t" style="top:889px;font-size:23.0px;left:605.00px;width:400px;text-align:center;">1</div>
<div class="t" style="top:889px;font-size:23.0px;left:651.80px;width:400px;text-align:center;">1</div>
<div class="t" style="top:889px;font-size:23.0px;left:689.40px;width:400px;text-align:center;">3</div>
<div class="t" style="top:889px;font-size:23.0px;left:733.00px;width:400px;text-align:center;">6</div>
<div class="t" style="top:889px;font-size:23.0px;left:778.50px;width:400px;text-align:center;">0</div>
<div class="t" style="top:889px;font-size:23.0px;left:823.50px;width:400px;text-align:center;">2</div>
<div class="t" style="top:889px;font-size:23.0px;left:867.50px;width:400px;text-align:center;">0</div>
<div class="t" style="top:889px;font-size:23.0px;left:912.70px;width:400px;text-align:center;">0</div>
<div class="t" style="top:889px;font-size:23.0px;left:959.50px;width:400px;text-align:center;">0</div>
<div class="t" style="top:889px;font-size:23.0px;left:1008.50px;width:400px;text-align:center;">-11</div>
<div class="t" style="top:920px;font-size:23.0px;left:-108.30px;width:400px;text-align:center;">3</div>
<div class="t" style="top:920px;font-size:23.0px;left:120.70px;">Joe Sayler</div>
<div class="t" style="top:920px;font-size:23.0px;left:-194.10px;width:600px;text-align:right;">G</div>
<div class="t" style="top:920px;font-size:23.0px;left:246.00px;width:400px;text-align:center;">35:31</div>
<div class="t" style="top:920px;font-size:23.0px;left:317.50px;width:400px;text-align:center;">3-11</div>
<div class="t" style="top:920px;font-size:23.0px;left:390.50px;width:400px;text-align:center;">2-7</div>
<div class="t" style="top:920px;font-size:23.0px;left:464.00px;width:400px;text-align:center;">4-4</div>
<div class="t" style="top:920px;font-size:23.0px;left:521.00px;width:400px;text-align:center;">1</div>
<div class="t" style="top:920px;font-size:23.0px;left:560.00px;width:400px;text-align:center;">4</div>
<div class="t" style="top:920px;font-size:23.0px;left:605.00px;width:400px;text-align:center;">5</div>
<div class="t" style="top:920px;font-size:23.0px;left:651.80px;width:400px;text-align:center;">2</div>
<div class="t" style="top:920px;font-size:23.0px;left:689.40px;width:400px;text-align:center;">2</div>
<div class="t" style="top:920px;font-size:23.0px;left:733.00px;width:400px;text-align:center;">12</div>
<div class="t" style="top:920px;font-size:23.0px;left:778.50px;width:400px;text-align:center;">4</div>
<div class="t" style="top:920px;font-size:23.0px;left:823.50px;width:400px;text-align:center;">0</div>
<div class="t" style="top:920px;font-size:23.0px;left:867.50px;width:400px;text-align:center;">0</div>
<div class="t" style="top:920px;font-size:23.0px;left:912.70px;width:400px;text-align:center;">0</div>
<div class="t" style="top:920px;font-size:23.0px;left:959.50px;width:400px;text-align:center;">0</div>
<div class="t" style="top:920px;font-size:23.0px;left:1008.50px;width:400px;text-align:center;">-13</div>
<div class="t" style="top:951px;font-size:23.0px;left:-108.30px;width:400px;text-align:center;">10</div>
<div class="t" style="top:951px;font-size:23.0px;left:120.70px;">Kalen Garry</div>
<div class="t" style="top:951px;font-size:23.0px;left:-194.10px;width:600px;text-align:right;">G</div>
<div class="t" style="top:951px;font-size:23.0px;left:246.00px;width:400px;text-align:center;">26:00</div>
<div class="t" style="top:951px;font-size:23.0px;left:317.50px;width:400px;text-align:center;">5-8</div>
<div class="t" style="top:951px;font-size:23.0px;left:390.50px;width:400px;text-align:center;">4-5</div>
<div class="t" style="top:951px;font-size:23.0px;left:464.00px;width:400px;text-align:center;">1-2</div>
<div class="t" style="top:951px;font-size:23.0px;left:521.00px;width:400px;text-align:center;">1</div>
<div class="t" style="top:951px;font-size:23.0px;left:560.00px;width:400px;text-align:center;">2</div>
<div class="t" style="top:951px;font-size:23.0px;left:605.00px;width:400px;text-align:center;">3</div>
<div class="t" style="top:951px;font-size:23.0px;left:651.80px;width:400px;text-align:center;">4</div>
<div class="t" style="top:951px;font-size:23.0px;left:689.40px;width:400px;text-align:center;">1</div>
<div class="t" style="top:951px;font-size:23.0px;left:733.00px;width:400px;text-align:center;">15</div>
<div class="t" style="top:951px;font-size:23.0px;left:778.50px;width:400px;text-align:center;">1</div>
<div class="t" style="top:951px;font-size:23.0px;left:823.50px;width:400px;text-align:center;">1</div>
<div class="t" style="top:951px;font-size:23.0px;left:867.50px;width:400px;text-align:center;">0</div>
<div class="t" style="top:951px;font-size:23.0px;left:912.70px;width:400px;text-align:center;">0</div>
<div class="t" style="top:951px;font-size:23.0px;left:959.50px;width:400px;text-align:center;">1</div>
<div class="t" style="top:951px;font-size:23.0px;left:1008.50px;width:400px;text-align:center;">-3</div>
<div class="t" style="top:983px;font-size:23.0px;left:-108.30px;width:400px;text-align:center;">14</div>
<div class="t" style="top:983px;font-size:23.0px;left:120.70px;">Jaden Jackson</div>
<div class="t" style="top:983px;font-size:23.0px;left:-194.10px;width:600px;text-align:right;">G</div>
<div class="t" style="top:983px;font-size:23.0px;left:246.00px;width:400px;text-align:center;">29:05</div>
<div class="t" style="top:983px;font-size:23.0px;left:317.50px;width:400px;text-align:center;">4-10</div>
<div class="t" style="top:983px;font-size:23.0px;left:390.50px;width:400px;text-align:center;">4-9</div>
<div class="t" style="top:983px;font-size:23.0px;left:464.00px;width:400px;text-align:center;">1-2</div>
<div class="t" style="top:983px;font-size:23.0px;left:521.00px;width:400px;text-align:center;">0</div>
<div class="t" style="top:983px;font-size:23.0px;left:560.00px;width:400px;text-align:center;">0</div>
<div class="t" style="top:983px;font-size:23.0px;left:605.00px;width:400px;text-align:center;">0</div>
<div class="t" style="top:983px;font-size:23.0px;left:651.80px;width:400px;text-align:center;">1</div>
<div class="t" style="top:983px;font-size:23.0px;left:689.40px;width:400px;text-align:center;">3</div>
<div class="t" style="top:983px;font-size:23.0px;left:733.00px;width:400px;text-align:center;">13</div>
<div class="t" style="top:983px;font-size:23.0px;left:778.50px;width:400px;text-align:center;">0</div>
<div class="t" style="top:983px;font-size:23.0px;left:823.50px;width:400px;text-align:center;">0</div>
<div class="t" style="top:983px;font-size:23.0px;left:867.50px;width:400px;text-align:center;">2</div>
<div class="t" style="top:983px;font-size:23.0px;left:912.70px;width:400px;text-align:center;">0</div>
<div class="t" style="top:983px;font-size:23.0px;left:959.50px;width:400px;text-align:center;">0</div>
<div class="t" style="top:983px;font-size:23.0px;left:1008.50px;width:400px;text-align:center;">-12</div>
<div class="t" style="top:1014px;font-size:23.0px;left:-108.30px;width:400px;text-align:center;">34</div>
<div class="t" style="top:1014px;font-size:23.0px;left:120.70px;">Damon Wilkinson</div>
<div class="t" style="top:1014px;font-size:23.0px;left:246.00px;width:400px;text-align:center;">23:09</div>
<div class="t" style="top:1014px;font-size:23.0px;left:317.50px;width:400px;text-align:center;">3-9</div>
<div class="t" style="top:1014px;font-size:23.0px;left:390.50px;width:400px;text-align:center;">0-0</div>
<div class="t" style="top:1014px;font-size:23.0px;left:464.00px;width:400px;text-align:center;">6-7</div>
<div class="t" style="top:1014px;font-size:23.0px;left:521.00px;width:400px;text-align:center;">2</div>
<div class="t" style="top:1014px;font-size:23.0px;left:560.00px;width:400px;text-align:center;">1</div>
<div class="t" style="top:1014px;font-size:23.0px;left:605.00px;width:400px;text-align:center;">3</div>
<div class="t" style="top:1014px;font-size:23.0px;left:651.80px;width:400px;text-align:center;">3</div>
<div class="t" style="top:1014px;font-size:23.0px;left:689.40px;width:400px;text-align:center;">7</div>
<div class="t" style="top:1014px;font-size:23.0px;left:733.00px;width:400px;text-align:center;">12</div>
<div class="t" style="top:1014px;font-size:23.0px;left:778.50px;width:400px;text-align:center;">0</div>
<div class="t" style="top:1014px;font-size:23.0px;left:823.50px;width:400px;text-align:center;">0</div>
<div class="t" style="top:1014px;font-size:23.0px;left:867.50px;width:400px;text-align:center;">2</div>
<div class="t" style="top:1014px;font-size:23.0px;left:912.70px;width:400px;text-align:center;">1</div>
<div class="t" style="top:1014px;font-size:23.0px;left:959.50px;width:400px;text-align:center;">0</div>
<div class="t" style="top:1014px;font-size:23.0px;left:1008.50px;width:400px;text-align:center;">-3</div>
<div class="t" style="top:1046px;font-size:23.0px;left:-108.30px;width:400px;text-align:center;">5</div>
<div class="t" style="top:1046px;font-size:23.0px;left:120.70px;">Caleb Delzell</div>
<div class="t" style="top:1046px;font-size:23.0px;left:246.00px;width:400px;text-align:center;">09:15</div>
<div class="t" style="top:1046px;font-size:23.0px;left:317.50px;width:400px;text-align:center;">0-1</div>
<div class="t" style="top:1046px;font-size:23.0px;left:390.50px;width:400px;text-align:center;">0-0</div>
<div class="t" style="top:1046px;font-size:23.0px;left:464.00px;width:400px;text-align:center;">0-0</div>
<div class="t" style="top:1046px;font-size:23.0px;left:521.00px;width:400px;text-align:center;">0</div>
<div class="t" style="top:1046px;font-size:23.0px;left:560.00px;width:400px;text-align:center;">2</div>
<div class="t" style="top:1046px;font-size:23.0px;left:605.00px;width:400px;text-align:center;">2</div>
<div class="t" style="top:1046px;font-size:23.0px;left:651.80px;width:400px;text-align:center;">0</div>
<div class="t" style="top:1046px;font-size:23.0px;left:689.40px;width:400px;text-align:center;">0</div>
<div class="t" style="top:1046px;font-size:23.0px;left:733.00px;width:400px;text-align:center;">0</div>
<div class="t" style="top:1046px;font-size:23.0px;left:778.50px;width:400px;text-align:center;">1</div>
<div class="t" style="top:1046px;font-size:23.0px;left:823.50px;width:400px;text-align:center;">1</div>
<div class="t" style="top:1046px;font-size:23.0px;left:867.50px;width:400px;text-align:center;">0</div>
<div class="t" style="top:1046px;font-size:23.0px;left:912.70px;width:400px;text-align:center;">0</div>
<div class="t" style="top:1046px;font-size:23.0px;left:959.50px;width:400px;text-align:center;">0</div>
<div class="t" style="top:1046px;font-size:23.0px;left:1008.50px;width:400px;text-align:center;">-8</div>
<div class="t" style="top:1077px;font-size:23.0px;left:-108.30px;width:400px;text-align:center;">12</div>
<div class="t" style="top:1077px;font-size:23.0px;left:120.70px;">Bubz Alvarez</div>
<div class="t" style="top:1077px;font-size:23.0px;left:246.00px;width:400px;text-align:center;">21:42</div>
<div class="t" style="top:1077px;font-size:23.0px;left:317.50px;width:400px;text-align:center;">4-8</div>
<div class="t" style="top:1077px;font-size:23.0px;left:390.50px;width:400px;text-align:center;">0-3</div>
<div class="t" style="top:1077px;font-size:23.0px;left:464.00px;width:400px;text-align:center;">0-1</div>
<div class="t" style="top:1077px;font-size:23.0px;left:521.00px;width:400px;text-align:center;">1</div>
<div class="t" style="top:1077px;font-size:23.0px;left:560.00px;width:400px;text-align:center;">1</div>
<div class="t" style="top:1077px;font-size:23.0px;left:605.00px;width:400px;text-align:center;">2</div>
<div class="t" style="top:1077px;font-size:23.0px;left:651.80px;width:400px;text-align:center;">2</div>
<div class="t" style="top:1077px;font-size:23.0px;left:689.40px;width:400px;text-align:center;">2</div>
<div class="t" style="top:1077px;font-size:23.0px;left:733.00px;width:400px;text-align:center;">8</div>
<div class="t" style="top:1077px;font-size:23.0px;left:778.50px;width:400px;text-align:center;">0</div>
<div class="t" style="top:1077px;font-size:23.0px;left:823.50px;width:400px;text-align:center;">1</div>
<div class="t" style="top:1077px;font-size:23.0px;left:867.50px;width:400px;text-align:center;">0</div>
<div class="t" style="top:1077px;font-size:23.0px;left:912.70px;width:400px;text-align:center;">0</div>
<div class="t" style="top:1077px;font-size:23.0px;left:959.50px;width:400px;text-align:center;">0</div>
<div class="t" style="top:1077px;font-size:23.0px;left:1008.50px;width:400px;text-align:center;">-17</div>
<div class="t" style="top:1108px;font-size:23.0px;left:-108.30px;width:400px;text-align:center;">2</div>
<div class="t" style="top:1108px;font-size:23.0px;left:120.70px;">Luke Haertle</div>
<div class="t" style="top:1108px;font-size:23.0px;left:246.00px;width:400px;text-align:center;">12:45</div>
<div class="t" style="top:1108px;font-size:23.0px;left:317.50px;width:400px;text-align:center;">1-3</div>
<div class="t" style="top:1108px;font-size:23.0px;left:390.50px;width:400px;text-align:center;">0-1</div>
<div class="t" style="top:1108px;font-size:23.0px;left:464.00px;width:400px;text-align:center;">0-2</div>
<div class="t" style="top:1108px;font-size:23.0px;left:521.00px;width:400px;text-align:center;">0</div>
<div class="t" style="top:1108px;font-size:23.0px;left:560.00px;width:400px;text-align:center;">0</div>
<div class="t" style="top:1108px;font-size:23.0px;left:605.00px;width:400px;text-align:center;">0</div>
<div class="t" style="top:1108px;font-size:23.0px;left:651.80px;width:400px;text-align:center;">2</div>
<div class="t" style="top:1108px;font-size:23.0px;left:689.40px;width:400px;text-align:center;">1</div>
<div class="t" style="top:1108px;font-size:23.0px;left:733.00px;width:400px;text-align:center;">2</div>
<div class="t" style="top:1108px;font-size:23.0px;left:778.50px;width:400px;text-align:center;">2</div>
<div class="t" style="top:1108px;font-size:23.0px;left:823.50px;width:400px;text-align:center;">1</div>
<div class="t" style="top:1108px;font-size:23.0px;left:867.50px;width:400px;text-align:center;">0</div>
<div class="t" style="top:1108px;font-size:23.0px;left:912.70px;width:400px;text-align:center;">1</div>
<div class="t" style="top:1108px;font-size:23.0px;left:959.50px;width:400px;text-align:center;">0</div>
<div class="t" style="top:1108px;font-size:23.0px;left:1008.50px;width:400px;text-align:center;">-3</div>
<div class="t" style="top:1141px;font-size:23.0px;left:68.00px;">Team</div>
<div class="t" style="top:1141px;font-size:23.0px;left:521.00px;width:400px;text-align:center;">2</div>
<div class="t" style="top:1141px;font-size:23.0px;left:560.00px;width:400px;text-align:center;">1</div>
<div class="t" style="top:1141px;font-size:23.0px;left:605.00px;width:400px;text-align:center;">3</div>
<div class="t" style="top:1141px;font-size:23.0px;left:651.80px;width:400px;text-align:center;">0</div>
<div class="t" style="top:1141px;font-size:23.0px;left:733.00px;width:400px;text-align:center;">0</div>
<div class="t" style="top:1141px;font-size:23.0px;left:823.50px;width:400px;text-align:center;">0</div>
<div class="t" style="top:1176px;font-size:23.0px;font-weight:700;left:68.30px;">Totals</div>
<div class="t" style="top:1176px;font-size:23.0px;left:317.50px;width:400px;text-align:center;">22-55</div>
<div class="t" style="top:1176px;font-size:23.0px;left:390.50px;width:400px;text-align:center;">10-26</div>
<div class="t" style="top:1176px;font-size:23.0px;left:464.00px;width:400px;text-align:center;">18-24</div>
<div class="t" style="top:1176px;font-size:23.0px;left:521.00px;width:400px;text-align:center;">7</div>
<div class="t" style="top:1176px;font-size:23.0px;left:560.00px;width:400px;text-align:center;">14</div>
<div class="t" style="top:1176px;font-size:23.0px;left:605.00px;width:400px;text-align:center;">21</div>
<div class="t" style="top:1176px;font-size:23.0px;left:651.80px;width:400px;text-align:center;">18</div>
<div class="t" style="top:1176px;font-size:23.0px;left:689.40px;width:400px;text-align:center;">22</div>
<div class="t" style="top:1176px;font-size:23.0px;left:733.00px;width:400px;text-align:center;">72</div>
<div class="t" style="top:1176px;font-size:23.0px;left:778.50px;width:400px;text-align:center;">8</div>
<div class="t" style="top:1176px;font-size:23.0px;left:823.50px;width:400px;text-align:center;">7</div>
<div class="t" style="top:1176px;font-size:23.0px;left:867.50px;width:400px;text-align:center;">4</div>
<div class="t" style="top:1176px;font-size:23.0px;left:912.70px;width:400px;text-align:center;">2</div>
<div class="t" style="top:1176px;font-size:23.0px;left:959.50px;width:400px;text-align:center;">1</div>
<div class="t" style="top:1176px;font-size:23.0px;left:1008.50px;width:400px;text-align:center;">-15</div>
<div class="t" style="top:1214px;font-size:23.4px;left:635.60px;width:600px;text-align:right;"><b>Major Fouls:</b> NONE</div>
</section>
<section class="shoot">
<div class="bg" style="left:1257.00px;top:789.00px;width:269.00px;height:28.70px;background:#ededed"></div>
<div class="bg" style="left:1257.00px;top:915.00px;width:269.00px;height:96.75px;background:#ededed"></div>
<div class="ln" style="left:1252.00px;top:785.00px;width:279.00px;height:4.00px;background:#000"></div>
<div class="ln" style="left:1252.00px;top:1105.00px;width:279.00px;height:4.00px;background:#000"></div>
<div class="ln" style="left:1252.00px;top:785.00px;width:4.00px;height:324.00px;background:#000"></div>
<div class="ln" style="left:1527.00px;top:785.00px;width:4.00px;height:324.00px;background:#000"></div>
<div class="t" style="top:793px;font-size:20.7px;font-weight:700;left:1191.30px;width:400px;text-align:center;">Shooting By Period</div>
<div class="t" style="top:829px;font-size:20.6px;font-weight:700;left:1258.30px;"><span class="pn">1</span><span class="sup">st</span></div>
<div class="t" style="top:926px;font-size:20.6px;font-weight:700;left:1258.30px;"><span class="pn">2</span><span class="sup">nd</span></div>
<div class="t" style="top:1019px;font-size:20.6px;font-weight:700;left:1258.00px;">GM</div>
<div class="t" style="top:826px;font-size:20.2px;font-weight:700;left:1296.60px;">FG%</div>
<div class="t" style="top:827px;font-size:19.5px;left:1201.80px;width:400px;text-align:center;">11-25</div>
<div class="t" style="top:826px;font-size:20.6px;left:923.90px;width:600px;text-align:right;">44.0%</div>
<div class="t" style="top:858px;font-size:20.2px;font-weight:700;left:1296.60px;">3PT%</div>
<div class="t" style="top:859px;font-size:19.5px;left:1201.80px;width:400px;text-align:center;">3-11</div>
<div class="t" style="top:858px;font-size:20.6px;left:923.90px;width:600px;text-align:right;">27.3%</div>
<div class="t" style="top:889px;font-size:20.2px;font-weight:700;left:1296.60px;">FT%</div>
<div class="t" style="top:890px;font-size:19.5px;left:1201.80px;width:400px;text-align:center;">4-6</div>
<div class="t" style="top:889px;font-size:20.6px;left:923.90px;width:600px;text-align:right;">66.7%</div>
<div class="t" style="top:923px;font-size:20.2px;font-weight:700;left:1296.60px;">FG%</div>
<div class="t" style="top:924px;font-size:19.5px;left:1201.80px;width:400px;text-align:center;">11-30</div>
<div class="t" style="top:923px;font-size:20.6px;left:923.90px;width:600px;text-align:right;">36.7%</div>
<div class="t" style="top:956px;font-size:20.2px;font-weight:700;left:1296.60px;">3PT%</div>
<div class="t" style="top:957px;font-size:19.5px;left:1201.80px;width:400px;text-align:center;">7-15</div>
<div class="t" style="top:956px;font-size:20.6px;left:923.90px;width:600px;text-align:right;">46.7%</div>
<div class="t" style="top:986px;font-size:20.2px;font-weight:700;left:1296.60px;">FT%</div>
<div class="t" style="top:987px;font-size:19.5px;left:1201.80px;width:400px;text-align:center;">14-18</div>
<div class="t" style="top:986px;font-size:20.6px;left:923.90px;width:600px;text-align:right;">77.8%</div>
<div class="t" style="top:1019px;font-size:20.2px;font-weight:700;left:1296.60px;">FG%</div>
<div class="t" style="top:1020px;font-size:19.5px;left:1201.80px;width:400px;text-align:center;">22-55</div>
<div class="t" style="top:1019px;font-size:20.6px;left:923.90px;width:600px;text-align:right;">40.0%</div>
<div class="t" style="top:1049px;font-size:20.2px;font-weight:700;left:1296.60px;">3PT%</div>
<div class="t" style="top:1050px;font-size:19.5px;left:1201.80px;width:400px;text-align:center;">10-26</div>
<div class="t" style="top:1049px;font-size:20.6px;left:923.90px;width:600px;text-align:right;">38.5%</div>
<div class="t" style="top:1079px;font-size:20.2px;font-weight:700;left:1296.60px;">FT%</div>
<div class="t" style="top:1080px;font-size:19.5px;left:1201.80px;width:400px;text-align:center;">18-24</div>
<div class="t" style="top:1079px;font-size:20.6px;left:923.90px;width:600px;text-align:right;">75.0%</div>
<div class="t" style="top:1114px;font-size:19.3px;left:930.50px;width:600px;text-align:right;">Dead Ball Rebounds: 3, 2</div>
</section>
<section class="cmp">
<div class="bg" style="left:266.00px;top:1242.00px;width:299.00px;height:58.00px;background:#ededed"></div>
<div class="ln" style="left:264.00px;top:1240.00px;width:303.00px;height:2.00px;background:#000"></div>
<div class="ln" style="left:264.00px;top:1240.00px;width:2.00px;height:60.00px;background:#000"></div>
<div class="ln" style="left:420.50px;top:1240.00px;width:2.00px;height:60.00px;background:#000"></div>
<div class="ln" style="left:565.00px;top:1240.00px;width:2.00px;height:60.00px;background:#000"></div>
<div class="t" style="top:1245px;font-size:23.5px;font-weight:700;left:143.50px;width:400px;text-align:center;color:#666;">WYO</div>
<div class="t" style="top:1245px;font-size:23.5px;font-weight:700;left:294.50px;width:400px;text-align:center;color:#666;">SDSU</div>
</section>
</body></html>
